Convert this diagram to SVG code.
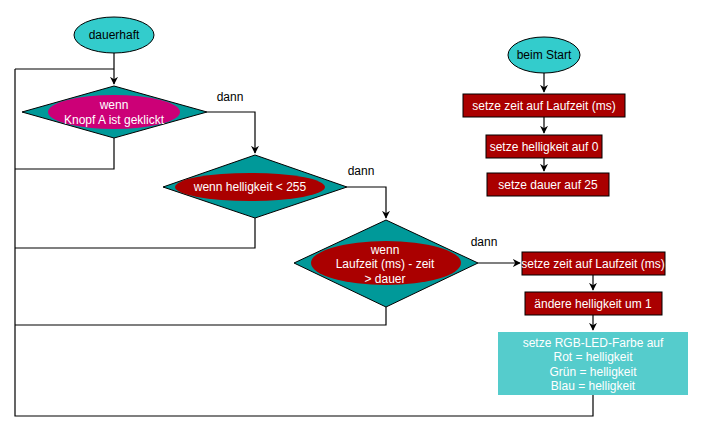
<svg xmlns="http://www.w3.org/2000/svg" width="704" height="432" viewBox="0 0 704 432">
<style>
text{font-family:"Liberation Sans",Arial,sans-serif;font-size:12px;text-anchor:middle}
.w{fill:#fff}.k{fill:#000}
.dia{fill:#009999;stroke:#000}
.red{fill:#aa0000;stroke:#000}
.ln{fill:none;stroke:#000;stroke-width:1.2}
</style>
<defs><marker id="a" viewBox="0 0 10 10" refX="9" refY="5" markerWidth="8" markerHeight="8" markerUnits="userSpaceOnUse" orient="auto"><path d="M0,0L10,5L0,10L3,5z" fill="#000"/></marker></defs>
<rect width="704" height="432" fill="#fff"/>
<g id="connectors">
<path class="ln" d="M114,53V84" marker-end="url(#a)"/>
<path class="ln" d="M15,69H114" stroke-width="2"/>
<path class="ln" d="M114,138V169H15"/>
<path class="ln" d="M207,112H255V153" marker-end="url(#a)"/>
<path class="ln" d="M255,218V248H15"/>
<path class="ln" d="M347,187H386V218" marker-end="url(#a)"/>
<path class="ln" d="M386,307V325H15"/>
<path class="ln" d="M478,263H520" marker-end="url(#a)"/>
<path class="ln" d="M593,275V290" marker-end="url(#a)"/>
<path class="ln" d="M593,315V330" marker-end="url(#a)"/>
<path class="ln" d="M593,395V416H15V69" stroke-width="1.2"/>
<path class="ln" d="M544,73V92" marker-end="url(#a)"/>
<path class="ln" d="M544,117V133" marker-end="url(#a)"/>
<path class="ln" d="M544,158V171" marker-end="url(#a)"/>
<text class="k" x="230" y="101">dann</text>
<text class="k" x="361" y="175">dann</text>
<text class="k" x="484" y="246">dann</text>
</g>
<g id="dauerhaft"><ellipse cx="114" cy="35" rx="40" ry="18" fill="#33cccc" stroke="#000"/><text class="k" x="114" y="39">dauerhaft</text></g>
<g id="d1"><polygon class="dia" points="22,112 114,86 207,112 114,138"/><ellipse cx="114" cy="112" rx="66" ry="17" fill="#cc0077"/><text class="w" x="114" y="109">wenn</text><text class="w" x="114" y="124">Knopf A ist geklickt</text></g>
<g id="d2"><polygon class="dia" points="163,187 255,155 347,187 255,218"/><ellipse cx="250" cy="187" rx="75" ry="14" fill="#aa0000"/><text class="w" x="250" y="191">wenn helligkeit &lt; 255</text></g>
<g id="d3"><polygon class="dia" points="294,263 386,220 478,263 386,307"/><ellipse cx="386" cy="263" rx="75" ry="22" fill="#aa0000"/><text class="w" x="385" y="254">wenn</text><text class="w" x="385" y="268">Laufzeit (ms) - zeit</text><text class="w" x="385" y="283">&gt; dauer</text></g>
<g id="b1"><rect class="red" x="522" y="252" width="143" height="23"/><text class="w" x="593" y="268">setze zeit auf Laufzeit (ms)</text></g>
<g id="b2"><rect class="red" x="525" y="292" width="137" height="23"/><text class="w" x="593" y="308">ändere helligkeit um 1</text></g>
<g id="b3"><rect x="498" y="332" width="190" height="63" fill="#55cccc"/><text class="w" x="593" y="347">setze RGB-LED-Farbe auf</text><text class="w" x="593" y="361">Rot = helligkeit</text><text class="w" x="593" y="376">Grün = helligkeit</text><text class="w" x="593" y="390">Blau = helligkeit</text></g>
<g id="start"><ellipse cx="544" cy="55" rx="36" ry="18" fill="#33cccc" stroke="#000"/><text class="k" x="544" y="59">beim Start</text></g>
<g id="s1"><rect class="red" x="463" y="94" width="162" height="23"/><text class="w" x="544" y="110">setze zeit auf Laufzeit (ms)</text></g>
<g id="s2"><rect class="red" x="486" y="135" width="116" height="23"/><text class="w" x="544" y="151">setze helligkeit auf 0</text></g>
<g id="s3"><rect class="red" x="487" y="173" width="122" height="23"/><text class="w" x="548" y="189">setze dauer auf 25</text></g>
</svg>
